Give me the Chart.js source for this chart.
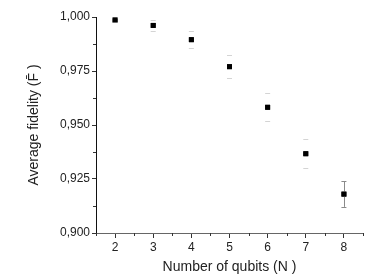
<!DOCTYPE html>
<html>
<head>
<meta charset="utf-8">
<script src="https://cdn.jsdelivr.net/npm/chart.js@4.4.1/dist/chart.umd.min.js"></script>
<style>
  body { margin: 0; background: #fff; }
  #wrap { width: 390px; height: 276px; }
</style>
</head>
<body>
<div id="wrap"><canvas id="fidelityChart"></canvas></div>
<script>
// Data
const qubits = [2, 3, 4, 5, 6, 7, 8];
const fidelity = [0.9986, 0.9961, 0.9895, 0.9770, 0.9582, 0.9367, 0.9180];
const fidelityErr = [0.0008, 0.0025, 0.0040, 0.0054, 0.0065, 0.0068, 0.0059];
const xTicks = [2, 3, 4, 5, 6, 7, 8];
const yTicks = [0.900, 0.925, 0.950, 0.975, 1.000];

const tickFont = { family: 'Liberation Sans, Arial, sans-serif', size: 12 };
const titleFont = { family: 'Liberation Sans, Arial, sans-serif', size: 14 };

// Error bars + minor ticks
const extrasPlugin = {
    id: 'extras',
    afterDatasetsDraw(chart) {
        const ctx = chart.ctx;
        const xs = chart.scales.x;
        const ys = chart.scales.y;
        ctx.save();
        qubits.forEach((q, i) => {
            const px = xs.getPixelForValue(q);
            const top = ys.getPixelForValue(fidelity[i] + fidelityErr[i]);
            const bot = ys.getPixelForValue(fidelity[i] - fidelityErr[i]);
            const last = i === qubits.length - 1;
            ctx.strokeStyle = last ? '#8a8a8a' : '#d4d4d4';
            ctx.lineWidth = 1;
            ctx.beginPath();
            ctx.moveTo(px - 2.5, Math.round(top) + 0.5);
            ctx.lineTo(px + 2.5, Math.round(top) + 0.5);
            ctx.moveTo(px - 2.5, Math.round(bot) + 0.5);
            ctx.lineTo(px + 2.5, Math.round(bot) + 0.5);
            if (last) {
                ctx.moveTo(Math.round(px) + 0.5, top);
                ctx.lineTo(Math.round(px) + 0.5, bot);
            }
            ctx.stroke();
        });
        // redraw markers on top of the error bars
        chart.getDatasetMeta(0).data.forEach(p => p.draw(ctx, chart.chartArea));

        // minor ticks
        ctx.strokeStyle = '#333';
        ctx.beginPath();
        for (let v = 1.5; v <= 8.5; v += 1) {
            const px = Math.round(xs.getPixelForValue(v)) + 0.5;
            ctx.moveTo(px, xs.top);
            ctx.lineTo(px, xs.top + 3);
        }
        for (let v = 0.9125; v < 1; v += 0.025) {
            const py = Math.round(ys.getPixelForValue(v)) + 0.5;
            ctx.moveTo(ys.right, py);
            ctx.lineTo(ys.right - 3, py);
        }
        ctx.stroke();
        ctx.restore();
    }
};

new Chart(document.getElementById('fidelityChart'), {
    type: 'scatter',
    data: {
        datasets: [{
            data: qubits.map((q, i) => ({ x: q, y: fidelity[i] })),
            pointStyle: 'rect',
            pointRadius: 3.5,
            pointHoverRadius: 3.5,
            backgroundColor: '#000',
            borderColor: '#000',
            borderWidth: 0
        }]
    },
    options: {
        responsive: true,
        maintainAspectRatio: false,
        animation: false,
        layout: { padding: { top: 17, right: 27, left: 0, bottom: 0 } },
        plugins: {
            legend: { display: false },
            tooltip: { enabled: false }
        },
        scales: {
            x: {
                type: 'linear',
                min: 1.5,
                max: 8.5,
                afterBuildTicks: (scale) => { scale.ticks = xTicks.map(v => ({ value: v })); },
                afterFit: (scale) => { scale.height = 43; },
                ticks: {
                    color: '#222',
                    font: tickFont,
                    padding: 2,
                    maxRotation: 0,
                    callback: (v) => String(v)
                },
                grid: { drawOnChartArea: false, drawTicks: true, tickLength: 5, color: '#333' },
                border: { color: '#666', width: 1 },
                title: {
                    display: true,
                    text: 'Number of qubits (N )',
                    color: '#222',
                    font: titleFont,
                    padding: 0
                }
            },
            y: {
                min: 0.9,
                max: 1.0,
                afterBuildTicks: (scale) => { scale.ticks = yTicks.map(v => ({ value: v })); },
                afterFit: (scale) => { scale.width = 96; },
                ticks: {
                    color: '#222',
                    font: tickFont,
                    padding: 2,
                    callback: (v) => v.toFixed(3).replace('.', ',')
                },
                grid: { drawOnChartArea: false, drawTicks: true, tickLength: 4, color: '#333' },
                border: { color: '#111', width: 1 },
                title: {
                    display: true,
                    text: 'Average fidelity (F\u0304 )',
                    color: '#222',
                    font: titleFont,
                    padding: { top: 26, bottom: 0 }
                }
            }
        }
    },
    plugins: [extrasPlugin]
});
</script>
</body>
</html>
